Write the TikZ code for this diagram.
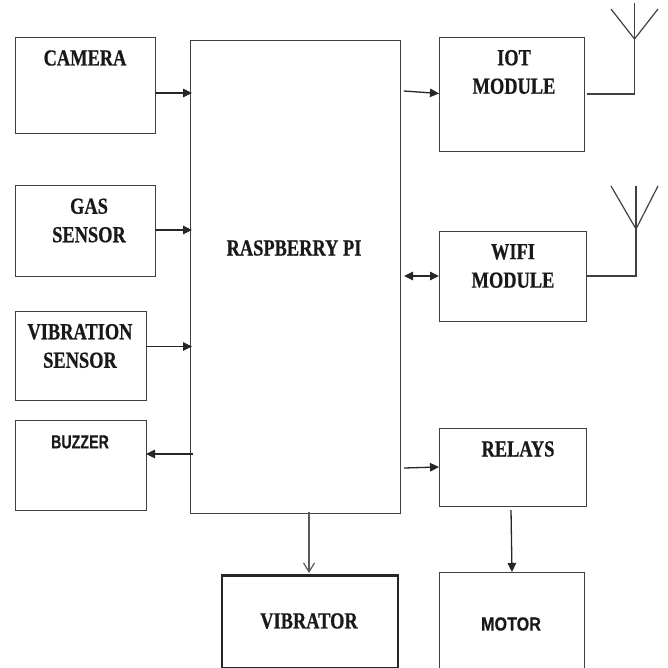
\documentclass[tikz,border=0pt]{standalone}
\usepackage{fontspec}
\setmainfont{Liberation Serif}[FakeStretch=0.8,BoldFeatures={FakeBold=0.6}]
\newfontfamily\sanslab{Liberation Sans}[FakeStretch=0.85,BoldFeatures={FakeBold=0.4}]
\newfontfamily\sanslabn{Liberation Sans}[FakeStretch=0.75,BoldFeatures={FakeBold=0.4}]
\usetikzlibrary{arrows.meta,calc}

\begin{document}
\begin{tikzpicture}[
  x=1pt, y=-1pt,
  box/.style   ={draw=black!75,rectangle,line width=1.3pt,anchor=north west,inner sep=0},
  heavy/.style ={box,draw=black!85,line width=2.6pt},
  lab/.style   ={font=\fontsize{23}{28.5}\selectfont\bfseries,align=center,inner sep=0,text=black!90},
  labs/.style  ={font=\fontsize{19}{24}\selectfont\sanslab\bfseries,inner sep=0,text=black!90},
  labn/.style  ={font=\fontsize{19}{24}\selectfont\sanslabn\bfseries,inner sep=0,text=black!90},
  ln/.style    ={draw=black!85,line width=1.3pt,-{Triangle[length=9pt,width=8.5pt]}},
  lnb/.style   ={draw=black!85,line width=1.3pt,{Triangle[length=9pt,width=8.5pt]}-{Triangle[length=9pt,width=8.5pt]}},
  lno/.style   ={draw=black!65,line width=1.2pt,-{Straight Barb[length=9pt,width=11pt]}},
  ant/.style   ={draw=black!75,line width=1.2pt},
]
\useasboundingbox (0,0) rectangle (667,668);

% ----------------------------------------------------------- inputs, left column
\node[box,minimum width=140pt,minimum height=96pt] (cam) at (14.5,37) {};
\node[box,minimum width=140pt,minimum height=91pt] (gas) at (14.5,185) {};
\node[box,minimum width=131pt,minimum height=89pt] (vib) at (14.5,311) {};
\node[box,minimum width=131pt,minimum height=90pt] (buz) at (14.5,420) {};
\node[lab] (camlab) at (85,58) {CAMERA};
\node[lab] (gaslab) at (89,220.5) {GAS\\SENSOR};
\node[lab] (viblab) at (80,346) {VIBRATION\\SENSOR};
\node[labn] (buzlab) at (80,442) {BUZZER};

% ----------------------------------------------------------- the board
\node[box,minimum width=210pt,minimum height=473pt] (pi) at (189.5,40) {};
\node[lab] (pilab) at (294,248) {RASPBERRY PI};

% ----------------------------------------------------------- outputs, right column
\node[box,minimum width=145pt,minimum height=114pt] (iot) at (438.5,37) {};
\node[box,minimum width=147pt,minimum height=90pt] (wifi) at (438.5,231) {};
\node[box,minimum width=147pt,minimum height=78pt] (rel) at (438.5,428) {};
\node[box,minimum width=145pt,minimum height=97pt] (mot) at (438.5,572) {};
\node[heavy,minimum width=176pt,minimum height=93pt] (vbr) at (220.5,574) {};
\node[lab] (iotlab) at (514,72) {IOT\\MODULE};
\node[lab] (wifilab) at (513,266) {WIFI\\MODULE};
\node[lab] (rellab) at (518,449) {RELAYS};
\node[lab] (vbrlab) at (309,621) {VIBRATOR};
\node[labs] (motlab) at (511,624) {MOTOR};

% ----------------------------------------------------------- free ends on the board edges
\coordinate (ci) at (155,93);   \coordinate (cj) at (192,93);
\coordinate (gi) at (155,230);  \coordinate (gj) at (192,230);
\coordinate (vi) at (146,346.5);\coordinate (vj) at (192,346.5);
\coordinate (bi) at (193,454);  \coordinate (bj) at (146,454);
\coordinate (ii) at (404,91);   \coordinate (ij) at (439,93.5);
\coordinate (wi) at (404,276);  \coordinate (wj) at (439,276);
\coordinate (ri) at (404,468);  \coordinate (rj) at (439,467);
\coordinate (pd) at (309,512);  \coordinate (vd) at (309,573);
\coordinate (rd) at (511,510);  \coordinate (md) at (512,572);

\draw[ln] (ci) -- (cj);
\draw[ln] (gi) -- (gj);
\draw[ln] (vi) -- (vj);
\draw[ln] (bi) -- (bj);
\draw[ln] (ii) -- (ij);
\draw[lnb] (wi) -- (wj);
\draw[ln] (ri) -- (rj);
\draw[lno] (pd) -- (vd);
\draw[ln] (rd) -- (md);

% ----------------------------------------------------------- antennas
\foreach \n/\s/\x/\y/\t/\f/\l/\r in {a/94/634.5/39/3/9/611/658, b/276/636/229/186/186/611/658} {
  \coordinate (\n0) at (587,\s);
  \coordinate (\n1) at (\x,\s);
  \coordinate (\n2) at (\x,\t);
  \coordinate (\n3) at (\x,\y);
  \draw[ant] (\n0) -- (\n1) -- (\n2);
  \draw[ant] (\l,\f) -- (\n3) -- (\r,\f);
}
\end{tikzpicture}
\end{document}
